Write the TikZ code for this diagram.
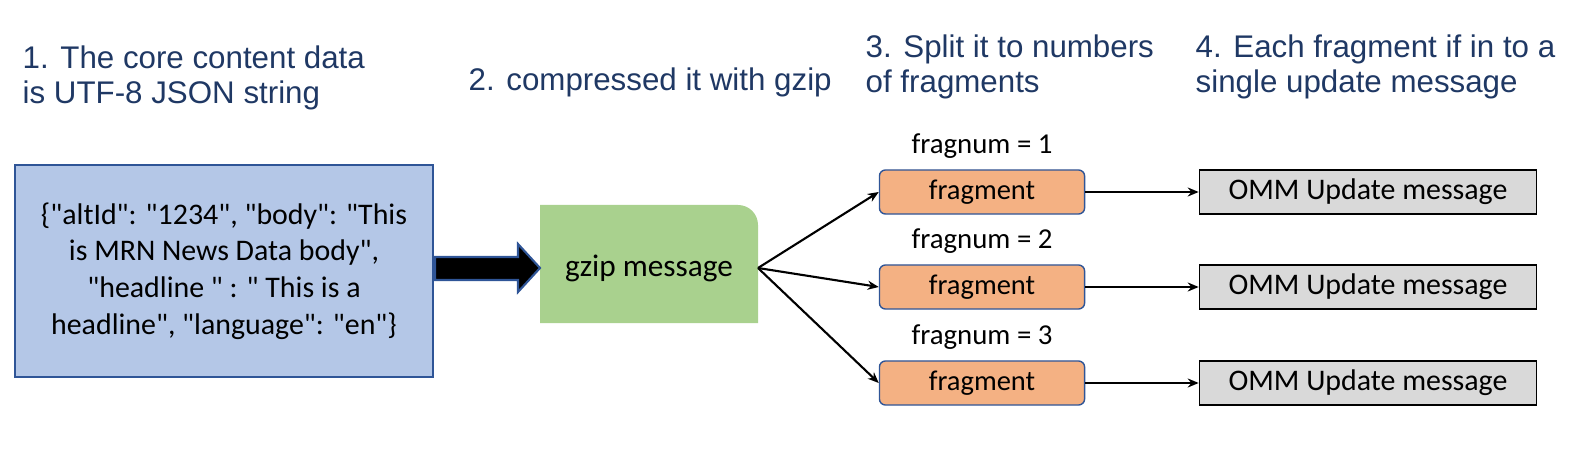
\documentclass[tikz,border=0pt]{standalone}
\usepackage{fontspec}
\setmainfont{Carlito}
\newfontfamily\headfont{Liberation Sans}
\usetikzlibrary{arrows.meta,positioning}
\definecolor{headblue}{HTML}{1F3864}
\definecolor{boxblue}{HTML}{B4C7E7}
\definecolor{edgeblue}{HTML}{2F5597}
\definecolor{gzipgreen}{HTML}{A9D18E}
\definecolor{fragorange}{HTML}{F4B183}
\definecolor{ommgray}{HTML}{D9D9D9}
\newcommand{\dq}{\textquotedbl}
\tikzset{
  head/.style={anchor=north west,align=left,text=headblue,font=\headfont\fontsize{8.9}{10}\selectfont,inner sep=0pt},
  frag/.style={draw=edgeblue,fill=fragorange,rounded corners=0.06cm,minimum width=2.05cm,minimum height=0.44cm,font=\fontsize{8.1}{9}\selectfont,inner sep=0pt},
  omm/.style={draw=black,fill=ommgray,minimum width=3.37cm,minimum height=0.44cm,font=\fontsize{8.5}{9}\selectfont,inner sep=0pt},
  numlabel/.style={font=\fontsize{8.2}{9}\selectfont,inner sep=0pt},
  conn/.style={-{Stealth[length=1.1mm,width=0.9mm]},line width=0.6pt}
}
\begin{document}
\begin{tikzpicture}[x=0.01cm,y=-0.01cm]
  \useasboundingbox (0,0) rectangle (1586,455);
  % headings
  \node[head] (h1) at (22,45) {1. The core content data\\is UTF-8 JSON string};
  \node[head] (h2) at (468,67) {2. compressed it with gzip};
  \node[head] (h3) at (865,34) {3. Split it to numbers\\of fragments};
  \node[head] (h4) at (1195,34) {4. Each fragment if in to a\\single update message};

  % source data
  \node[draw=edgeblue,fill=boxblue,line width=0.7pt,minimum width=4.18cm,minimum height=2.12cm,align=center,
        font=\fontsize{8.5}{10.4}\selectfont] (json) at (224,271)
    {\{\dq altId\dq: \dq1234\dq, \dq body\dq: \dq This\\is MRN News Data body\dq,\\\dq headline \dq\ : \dq\ This is a\\headline\dq, \dq language\dq: \dq en\dq\}};

  % gzip box
  \fill[gzipgreen] (540,205) -- (738,205) to[out=0,in=90] (758,225) -- (758,323) -- (540,323) -- cycle;
  \node[font=\fontsize{8.9}{9}\selectfont,inner sep=0pt] (gzip) at (649,268) {gzip message};
  \coordinate (gzipout) at (758,268);

  % big arrow
  \draw[edgeblue,fill=black,line width=0.6pt] (435,257) -- (518,257) -- (518,244) -- (540,268)
     -- (518,292) -- (518,280) -- (435,280) -- cycle;

  % fragments and update messages
  \foreach \i/\y in {1/192,2/287,3/383}{
    \node[frag] (frag\i) at (982,\y) {fragment};
    \node[numlabel,above=0.1cm of frag\i] (num\i) {fragnum = \i};
    \node[omm] (omm\i) at (1368,\y) {OMM Update message};
    \draw[conn] (frag\i) -- (omm\i);
    \draw[conn] (gzipout) -- (frag\i.west);
  }
\end{tikzpicture}
\end{document}
